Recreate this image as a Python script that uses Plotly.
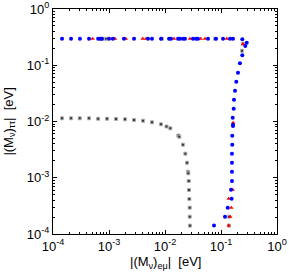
import plotly.graph_objects as go

# gray series
gray_x = [1.45e-4, 2.1e-4, 3.0e-4, 4.4e-4, 6.4e-4, 9.2e-4, 1.33e-3, 1.93e-3, 2.8e-3, 4.05e-3,
          5.86e-3, 8.5e-3, 0.01063, 0.01245, 0.0173, 0.0180, 0.0209, 0.0231, 0.0247, 0.0258,
          0.0261, 0.0265, 0.0268, 0.0272, 0.0276, 0.0276, 0.0279,
          7.5e-4, 8.8e-4, 8.8e-3, 0.078, 0.247, 0.237, 0.139, 0.139]
gray_y = [0.0114, 0.0114, 0.0114, 0.0114, 0.0112, 0.0112, 0.0111, 0.01094, 0.01063, 0.01033,
          0.00968, 0.00892, 0.00815, 0.00757, 0.00564, 0.00537, 0.00387, 0.00268, 0.00185, 0.00128,
          0.0012, 8.75e-4, 6.05e-4, 4.19e-4, 2.94e-4, 2.03e-4, 1.41e-4,
          0.296, 0.296, 0.296, 0.296, 0.239, 0.181, 2.03e-4, 1.41e-4]

# red series
red_x = [5.1e-4, 1.13e-3, 1.28e-3, 2.0e-3, 4.0e-3, 4.58e-3, 8.5e-3, 0.0145, 0.0279, 0.0434,
         0.0518, 0.1265, 0.149, 0.247, 0.165, 0.162, 0.137, 0.153, 0.1466, 0.137]
red_y = [0.296, 0.296, 0.296, 0.296, 0.296, 0.296, 0.296, 0.296, 0.296, 0.296,
         0.296, 0.296, 0.296, 0.239, 0.00952, 6.13e-4, 4.25e-4, 2.94e-4, 2.03e-4, 1.41e-4]

# blue series
blue_x = [1.45e-4, 2.1e-4, 3.03e-4, 4.4e-4, 6.4e-4, 6.9e-4, 7.5e-4, 1.0e-3, 1.18e-3, 1.85e-3,
          2.8e-3, 4.97e-3, 5.86e-3, 8.5e-3, 0.0118, 0.0128, 0.0171, 0.0185, 0.0209, 0.0227,
          0.0316, 0.0358, 0.0388, 0.0586, 0.0815, 0.1087, 0.145, 0.1638,
          0.240, 0.288, 0.272, 0.240, 0.218, 0.201, 0.1875, 0.178, 0.1706, 0.1686, 0.1618,
          0.1638, 0.1638, 0.159, 0.159, 0.157, 0.157, 0.157, 0.157, 0.151, 0.155, 0.132, 0.1178, 0.075]
blue_y = [0.296] * 28 + [
          0.289, 0.252, 0.220, 0.150, 0.1083, 0.0738, 0.0510, 0.0353, 0.0244, 0.0169, 0.0117,
          0.00877, 0.0083, 0.0056, 0.00387, 0.00268, 0.00185, 0.00128, 8.75e-4, 6.13e-4, 4.25e-4,
          2.94e-4, 2.03e-4, 1.41e-4]

tick_vals = [1e-4, 1e-3, 1e-2, 1e-1, 1]
tick_text = ["10<sup>-4</sup>", "10<sup>-3</sup>", "10<sup>-2</sup>", "10<sup>-1</sup>", "10<sup>0</sup>"]
x_title = "|(M<sub>ν</sub>)<sub>eμ</sub>|  [eV]"
y_title = "|(M<sub>ν</sub>)<sub>ττ</sub>|  [eV]"

fig = go.Figure()
fig.add_trace(go.Scatter(x=gray_x, y=gray_y, mode="markers",
                         marker=dict(symbol="square", size=3, color="#333333",
                                     line=dict(width=1, color="#b0b0b0"))))
fig.add_trace(go.Scatter(x=red_x, y=red_y, mode="markers",
                         marker=dict(symbol="triangle-up", size=4, color="#ff0000")))
fig.add_trace(go.Scatter(x=blue_x, y=blue_y, mode="markers",
                         marker=dict(symbol="circle", size=4, color="#0000ff")))

axis_common = dict(type="log", range=[-4, 0], tickvals=tick_vals, ticktext=tick_text,
                   showline=True, linecolor="black", linewidth=1, mirror="ticks",
                   ticks="inside", ticklen=4, tickcolor="black", showgrid=False, zeroline=False,
                   automargin=False,
                   minor=dict(ticks="inside", ticklen=2, tickcolor="black", showgrid=False,
                              tickvals=[m * 10 ** e for e in range(-4, 0) for m in range(2, 10)]),
                   tickfont=dict(family="Liberation Sans, Arial", size=13, color="black"))

fig.update_layout(
    width=289, height=275,
    margin=dict(l=53, r=12, t=9, b=41),
    paper_bgcolor="white", plot_bgcolor="white",
    showlegend=False,
    font=dict(family="Liberation Sans, Arial", size=13, color="black"),
    xaxis=dict(axis_common),
    yaxis=dict(axis_common),
    annotations=[
        dict(text=x_title, xref="paper", yref="paper", x=0.5, y=-0.125,
             xanchor="center", yanchor="middle", showarrow=False,
             font=dict(family="Liberation Sans, Arial", size=13)),
        dict(text=y_title, xref="paper", yref="paper", x=-0.196, y=0.5,
             xanchor="center", yanchor="middle", textangle=-90, showarrow=False,
             font=dict(family="Liberation Sans, Arial", size=13)),
    ],
)

fig.write_html("out.html", config={"displayModeBar": False},
               post_script="document.body.style.margin='0';")
